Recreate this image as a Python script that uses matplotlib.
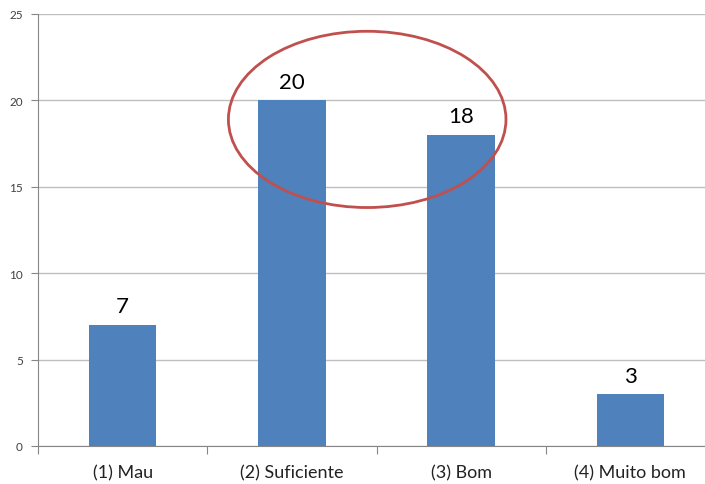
# Gráfico de barras com avaliação
import matplotlib.pyplot as plt
from matplotlib.patches import Ellipse
import numpy as np

plt.rcParams["font.family"] = ["Lato", "DejaVu Sans"]

# - - - - Dados - - - -
categorias = ["(1) Mau", "(2) Suficiente", "(3) Bom", "(4) Muito bom"]
valores = [7, 20, 18, 3]
yticks = [0, 5, 10, 15, 20, 25]

cor_barra = "#4F81BD"
cor_circulo = "#C0504D"

fig = plt.figure(figsize=(7.05, 4.85), dpi=100)
# o eixo continua um pouco para lá da margem direita, como no original
ax = fig.add_axes([38 / 705, 38 / 485, 677 / 705, 432 / 485])

x = np.arange(len(categorias))
barras = ax.bar(x, valores, width=0.40, color=cor_barra, zorder=3)

# Rótulos dos valores
for xi, v in zip(x, valores):
    ax.text(xi, v + 0.5, str(v), ha="center", va="bottom", fontsize=16,
            color="black", zorder=4)

ax.set_xlim(-0.5, len(categorias) - 0.5)
ax.set_ylim(0, 25)
ax.set_yticks(yticks)
ax.set_yticklabels([str(t) for t in yticks], fontsize=8.5, color="#404040")

# Ticks do eixo x nas fronteiras entre categorias
ax.set_xticks(np.arange(len(categorias) + 1) - 0.5)
ax.set_xticklabels([])
ax.set_xticks(x, minor=True)
ax.set_xticklabels(categorias, minor=True, fontsize=13, color="#222222")
ax.tick_params(axis="x", which="minor", length=0, pad=13)
ax.tick_params(axis="x", which="major", length=6, color="#868686", direction="out")
ax.tick_params(axis="y", length=5, color="#868686", direction="out", pad=6)

# Grelha horizontal
ax.grid(axis="y", color="#BEBEBE", linewidth=1, zorder=0)
ax.set_axisbelow(True)

for lado in ["top", "right"]:
    ax.spines[lado].set_visible(False)
ax.spines["left"].set_color("#868686")
ax.spines["bottom"].set_color("#868686")

# Elipse a destacar as barras do meio
elipse = Ellipse((1.445, 18.9), width=1.64, height=10.2, fill=False,
                 edgecolor=cor_circulo, linewidth=2, zorder=5)
ax.add_patch(elipse)

plt.savefig("out.png", dpi=100)
